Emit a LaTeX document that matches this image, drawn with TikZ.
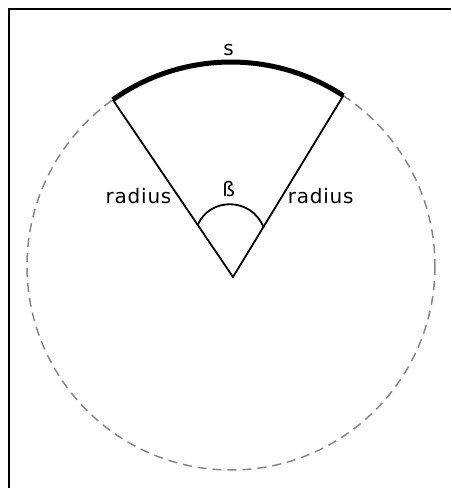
\documentclass[tikz,border=0pt]{standalone}
\usepackage{fontspec}
\setmainfont{DejaVu Sans}
\usetikzlibrary{calc}
\begin{document}
\begin{tikzpicture}[x=1pt,y=-1pt,
  lbl/.style={inner sep=0pt, anchor=base, font=\fontsize{20}{24}\selectfont\addfontfeature{LetterSpace=4}},
  frameline/.style={line width=2pt, black},
  circ/.style={draw=black!47, line width=1.5pt, dash pattern=on 9pt off 6pt},
  arcline/.style={line width=5pt, black},
  radline/.style={line width=1.8pt, black}]
\useasboundingbox (0,0) rectangle (451,488);
% frame (only left and top edges visible)
\draw[frameline] (9,488) -- (9,9) -- (451,9);
% dashed circle
\coordinate (O) at (231,266);
\draw[circ] (O) circle[radius=204];
% arc end points and apex
\coordinate (A) at (233,277);
\path (O) ++(-125.4:204) coordinate (L);
\path (O) ++(-56.6:204) coordinate (R);
% thick arc s
\draw[arcline] (L) arc[start angle=-125.4, end angle=-56.6, radius=204];
% radius lines
\draw[radline] (L) -- (A) -- (R);
% angle arc
\coordinate (B1) at ($(A)!0.294!(L)$);
\coordinate (B2) at ($(A)!0.276!(R)$);
\draw[radline] (B1) .. controls (210,197) and (251,197) .. (B2);
% labels
\node[lbl] (s) at (228.7,55) {s};
\node[lbl] (rl) at (138.5,203.3) {radius};
\node[lbl] (rr) at (320.7,203.3) {radius};
\node[lbl] (beta) at (228.7,196.7) {ß};
\end{tikzpicture}
\end{document}
